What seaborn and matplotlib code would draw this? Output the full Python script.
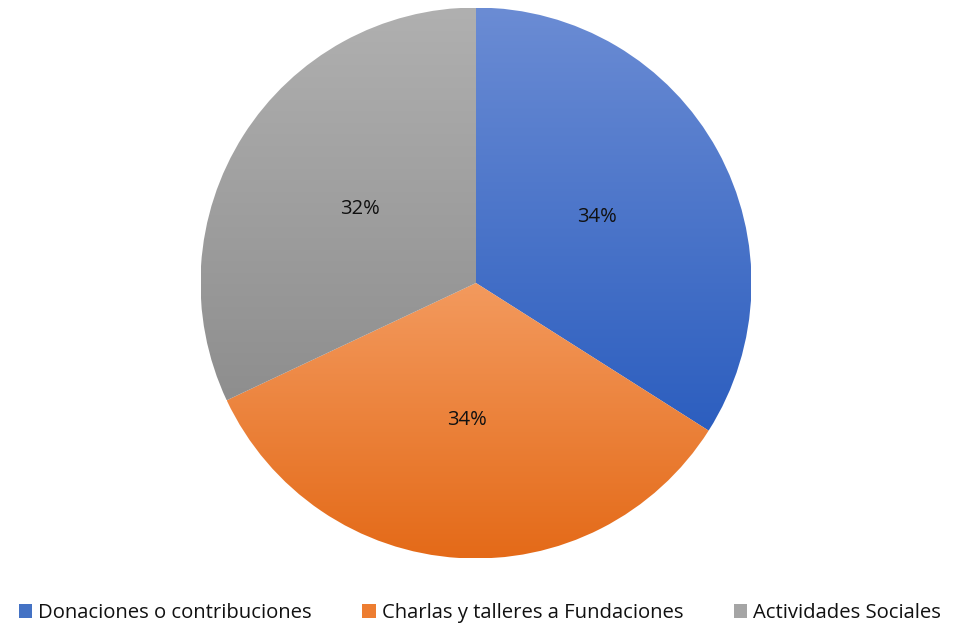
import numpy as np
import matplotlib
matplotlib.use("Agg")
import matplotlib.pyplot as plt
from matplotlib.colors import LinearSegmentedColormap
from matplotlib.patches import Patch
import seaborn as sns

categories = ["Donaciones o contribuciones", "Charlas y talleres a Fundaciones", "Actividades Sociales"]
values = [34, 34, 32]
pct_labels = ["34%", "34%", "32%"]

# (top colour, bottom colour) of each slice's vertical gradient
gradients = [("#6b8cd4", "#2c5ebf"), ("#f39a5e", "#e46a18"), ("#b0b0b0", "#8e8e8e")]
legend_colors = ["#4472c4", "#ed7d31", "#a5a5a5"]

sns.set_theme(style="white")
plt.rcParams["font.family"] = ["Open Sans", "DejaVu Sans"]

W, H = 954, 624
fig = plt.figure(figsize=(W / 100, H / 100), dpi=100)
cx, cy, r = 476, 283, 275.5
ax = fig.add_axes([(cx - r) / W, (H - cy - r) / H, 2 * r / W, 2 * r / H])

wedges, _ = ax.pie(values, startangle=90, counterclock=False, radius=1,
                   colors=legend_colors, wedgeprops=dict(linewidth=0))
ax.set_xlim(-1, 1)
ax.set_ylim(-1, 1)
ax.set_aspect("equal")
ax.axis("off")

grad = np.linspace(0, 1, 256).reshape(-1, 1)
for w, (top, bottom) in zip(wedges, gradients):
    ext = w.get_path().get_extents()
    cmap = LinearSegmentedColormap.from_list("g", [top, bottom])
    im = ax.imshow(grad, cmap=cmap, aspect="auto", origin="upper",
                   extent=[ext.x0, ext.x1, ext.y0, ext.y1], zorder=1)
    im.set_clip_path(w)
    w.set_facecolor("none")

# percentage labels placed at mid-angle of each slice
angles = np.cumsum([0] + values)
total = sum(values)
for i, lab in enumerate(pct_labels):
    mid = 90 - 360 * (angles[i] + angles[i + 1]) / 2 / total
    rad = np.deg2rad(mid)
    ax.text(0.5 * np.cos(rad), 0.5 * np.sin(rad), lab, ha="center", va="center",
            fontsize=14.5, color="#111111", zorder=3)

handles = [Patch(facecolor=c, edgecolor="none") for c in legend_colors]
fig.legend(handles, categories, loc="lower center", bbox_to_anchor=(0.503, -0.028), ncol=3,
           frameon=False, fontsize=14.6, handlelength=0.65, handleheight=0.65,
           handletextpad=0.3, columnspacing=2.5, labelcolor="#111111")

fig.savefig("out.png", dpi=100)
